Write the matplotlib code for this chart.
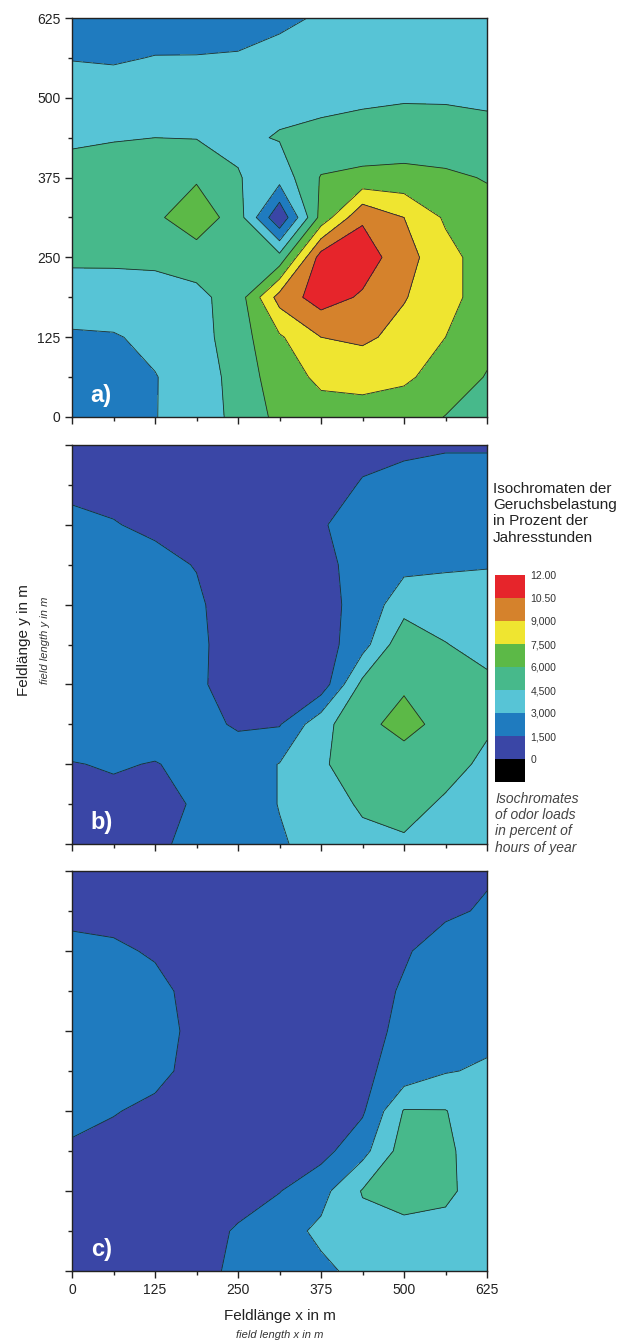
# =============================================================================
# Isochromaten der Geruchsbelastung - three contour maps a), b), c)
# =============================================================================
import matplotlib
matplotlib.use('Agg')
import matplotlib.pyplot as plt
import numpy as np
from matplotlib.ticker import MultipleLocator

plt.rcParams['font.family'] = ['Liberation Sans', 'DejaVu Sans']

# =============================================================================
# Data (odor hours in % of the year on a 62.5 m grid)
# rows go from y = 625 (top) down to y = 0
# =============================================================================
grid_m = [0, 62.5, 125, 187.5, 250, 312.5, 375, 437.5, 500, 562.5, 625]

odor_a = [
    [2.2, 2.2, 2.3, 2.4, 2.5, 2.8, 3.1, 3.4, 3.6, 3.7, 3.8],
    [2.95, 2.85, 3.05, 3.05, 3.1, 3.3, 3.5, 3.7, 3.8, 3.9, 3.9],
    [3.6, 3.7, 3.8, 3.9, 4.0, 4.1, 4.2, 4.3, 4.4, 4.4, 4.3],
    [4.3, 4.4, 4.5, 4.45, 4.2, 4.6, 4.8, 5.0, 5.1, 5.0, 4.9],
    [5.0, 5.3, 5.5, 5.8, 4.6, 3.6, 6.1, 6.4, 6.5, 6.3, 5.9],
    [5.0, 5.3, 5.7, 7.0, 5.2, 0.2, 6.5, 10.3, 9.0, 7.3, 6.6],
    [4.75, 4.8, 4.9, 5.2, 4.7, 5.0, 11.2, 11.3, 9.6, 8.0, 6.8],
    [3.8, 3.7, 3.7, 4.1, 5.2, 9.6, 11.2, 10.3, 9.1, 8.0, 6.8],
    [2.8, 2.9, 3.3, 3.9, 5.3, 7.3, 9.0, 9.3, 8.5, 7.5, 6.5],
    [2.2, 2.3, 2.95, 3.6, 5.1, 6.8, 7.8, 7.9, 7.7, 7.0, 5.9],
    [2.0, 2.1, 2.95, 3.7, 4.9, 6.4, 6.9, 7.0, 6.8, 5.95, 5.3],
]

odor_b = [
    [1.2, 1.1, 1.0, 0.9, 0.8, 0.8, 0.9, 1.1, 1.3, 1.4, 1.4],
    [1.3, 1.2, 1.0, 0.8, 0.7, 0.7, 0.9, 1.6, 1.8, 1.9, 1.9],
    [1.7, 1.55, 1.3, 0.9, 0.6, 0.6, 1.4, 2.0, 2.3, 2.4, 2.4],
    [2.0, 1.9, 1.8, 1.45, 0.8, 0.6, 1.0, 2.2, 2.6, 2.8, 2.9],
    [2.1, 2.1, 2.0, 1.7, 0.8, 0.6, 1.0, 2.0, 3.9, 3.8, 3.8],
    [2.2, 2.2, 2.1, 1.8, 0.8, 0.6, 0.8, 2.4, 5.6, 4.55, 4.0],
    [2.2, 2.2, 2.1, 1.8, 0.7, 0.6, 0.6, 4.9, 5.8, 5.4, 4.8],
    [2.2, 2.2, 2.1, 1.9, 1.35, 1.4, 4.0, 5.6, 6.5, 5.5, 4.7],
    [1.45, 1.6, 1.45, 1.8, 2.2, 3.05, 4.3, 5.3, 5.3, 5.0, 4.2],
    [1.2, 1.2, 1.2, 1.6, 2.2, 3.05, 3.8, 4.7, 5.0, 4.3, 3.9],
    [1.1, 1.1, 1.3, 1.8, 2.3, 2.85, 3.5, 4.1, 4.3, 4.0, 3.6],
]

odor_c = [
    [1.0, 0.9, 0.8, 0.7, 0.7, 0.7, 0.8, 0.9, 1.1, 1.2, 1.4],
    [1.3, 1.2, 1.0, 0.8, 0.7, 0.7, 0.8, 1.0, 1.2, 1.35, 1.6],
    [1.7, 1.65, 1.4, 1.0, 0.7, 0.6, 0.7, 1.0, 1.4, 1.9, 2.1],
    [1.9, 1.9, 1.75, 1.2, 0.8, 0.6, 0.7, 1.1, 1.6, 2.1, 2.3],
    [2.0, 2.0, 1.8, 1.3, 0.8, 0.6, 0.7, 1.2, 1.7, 2.3, 2.6],
    [2.0, 1.95, 1.75, 1.2, 0.8, 0.6, 0.7, 1.25, 2.0, 2.9, 3.2],
    [1.9, 1.55, 1.3, 1.0, 0.8, 0.6, 0.8, 1.3, 4.6, 4.55, 3.5],
    [1.3, 1.2, 1.0, 0.8, 0.7, 0.8, 1.0, 2.5, 5.2, 4.7, 3.9],
    [1.2, 1.1, 1.0, 0.9, 1.1, 1.45, 2.5, 4.6, 4.8, 4.7, 4.0],
    [1.1, 1.0, 1.0, 1.1, 1.6, 2.4, 3.3, 4.0, 4.3, 4.2, 3.9],
    [1.0, 1.0, 1.0, 1.2, 1.7, 2.4, 2.7, 3.4, 3.7, 3.7, 3.6],
]

levels = [-1.5, 0, 1.5, 3, 4.5, 6, 7.5, 9, 10.5, 12]
level_labels = ['0', '1,500', '3,000', '4,500', '6,000', '7,500', '9,000', '10.50', '12.00']
colors = ['#000000', '#3a46a6', '#1f7bbf', '#57c4d6', '#47b98b',
          '#5cb947', '#efe530', '#d5822c', '#e6252b']
panel_tags = ['a)', 'b)', 'c)']

# =============================================================================
# Figure and panels
# =============================================================================
fig = plt.figure(figsize=(6.25, 13.41), dpi=100)
W, H = 625.0, 1341.0

# panel boxes in pixels: left, top, right, bottom
boxes = [(72, 18, 487, 417), (72, 445, 487, 844), (72, 871, 487, 1271)]
axes = []
for l, t, r, b in boxes:
    axes.append(fig.add_axes([l / W, 1 - b / H, (r - l) / W, (b - t) / H]))

for i, (ax, z) in enumerate(zip(axes, [odor_a, odor_b, odor_c])):
    zz = np.flipud(np.array(z))
    cf = ax.contourf(grid_m, grid_m, zz, levels=levels, colors=colors)
    ax.contour(grid_m, grid_m, zz, levels=levels[2:-1], colors='#1c2b2e', linewidths=0.6)

    ax.set_xlim(0, 625)
    ax.set_ylim(0, 625)
    ax.xaxis.set_major_locator(MultipleLocator(125))
    ax.xaxis.set_minor_locator(MultipleLocator(62.5))
    ax.yaxis.set_major_locator(MultipleLocator(125))
    ax.yaxis.set_minor_locator(MultipleLocator(62.5))
    ax.tick_params(which='major', direction='out', length=5, width=1, labelsize=10,
                   colors='#222222')
    ax.tick_params(which='minor', direction='out', length=3, width=1, colors='#222222')
    for s in ax.spines.values():
        s.set_linewidth(1)
        s.set_color('#222222')

    if i != 0:
        ax.tick_params(labelleft=False)
    if i != 2:
        ax.tick_params(labelbottom=False)

    ax.text(0.045, 0.025, panel_tags[i], transform=ax.transAxes, color='white',
            fontsize=17, fontweight='bold', ha='left', va='bottom')

# =============================================================================
# Axis labels
# =============================================================================
fig.text(24 / W, 1 - 640 / H, 'Feldlänge y in m', rotation=90, fontsize=11,
         ha='center', va='center', color='#222222')
fig.text(45 / W, 1 - 640 / H, 'field length y in m', rotation=90, fontsize=8,
         style='italic', ha='center', va='center', color='#333333')
fig.text(280 / W, 1 - 1316 / H, 'Feldlänge x in m', fontsize=11,
         ha='center', va='center', color='#222222')
fig.text(280 / W, 1 - 1335 / H, 'field length x in m', fontsize=8,
         style='italic', ha='center', va='center', color='#333333')

# =============================================================================
# Legend (colour scale)
# =============================================================================
cax = fig.add_axes([495 / W, 1 - 782 / H, 30 / W, 207 / H])
cb = fig.colorbar(cf, cax=cax, ticks=levels[1:])
cb.set_ticklabels(level_labels)
cb.outline.set_visible(False)
cax.tick_params(length=0, labelsize=7.5, pad=4, colors='#333333')

fig.text(493 / W, 1 - 482 / H,
         'Isochromaten der\nGeruchsbelastung\nin Prozent der\nJahresstunden',
         fontsize=11, ha='left', va='top', linespacing=1.2, color='#222222')
fig.text(495 / W, 1 - 792 / H,
         'Isochromates\nof odor loads\nin percent of\nhours of year',
         fontsize=10, style='italic', ha='left', va='top', linespacing=1.2,
         color='#444444')

fig.savefig('out.png', dpi=100)
